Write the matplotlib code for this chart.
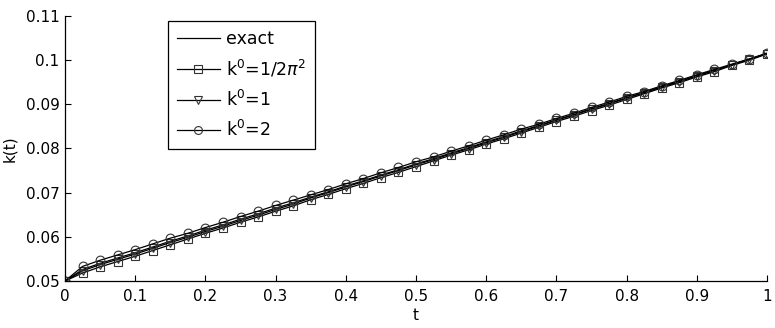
import numpy as np
import matplotlib
matplotlib.use('Agg')
import matplotlib.pyplot as plt
from matplotlib.ticker import FormatStrFormatter

plt.rcParams['font.family'] = ['DejaVu Sans']
plt.rcParams['mathtext.fontset'] = 'dejavusans'

# time samples
t = [0.000, 0.025, 0.050, 0.075, 0.100, 0.125, 0.150, 0.175, 0.200, 0.225,
     0.250, 0.275, 0.300, 0.325, 0.350, 0.375, 0.400, 0.425, 0.450, 0.475,
     0.500, 0.525, 0.550, 0.575, 0.600, 0.625, 0.650, 0.675, 0.700, 0.725,
     0.750, 0.775, 0.800, 0.825, 0.850, 0.875, 0.900, 0.925, 0.950, 0.975,
     1.000]

k_exact = [0.0500, 0.0526, 0.0540, 0.0552, 0.0564, 0.0577, 0.0590, 0.0602, 0.0615, 0.0627,
           0.0640, 0.0652, 0.0665, 0.0677, 0.0690, 0.0702, 0.0715, 0.0727, 0.0740, 0.0752,
           0.0765, 0.0777, 0.0790, 0.0802, 0.0815, 0.0827, 0.0840, 0.0852, 0.0865, 0.0877,
           0.0890, 0.0902, 0.0915, 0.0927, 0.0940, 0.0952, 0.0965, 0.0977, 0.0990, 0.1002,
           0.1015]

# k0 = 1/(2 pi^2)
k_sq = [0.0500, 0.0518, 0.0532, 0.0544, 0.0556, 0.0569, 0.0582, 0.0595, 0.0608, 0.0620,
        0.0633, 0.0645, 0.0658, 0.0670, 0.0684, 0.0696, 0.0709, 0.0721, 0.0734, 0.0746,
        0.0759, 0.0772, 0.0785, 0.0797, 0.0810, 0.0822, 0.0835, 0.0848, 0.0861, 0.0873,
        0.0886, 0.0898, 0.0911, 0.0924, 0.0937, 0.0949, 0.0962, 0.0974, 0.0988, 0.1000,
        0.1014]

# k0 = 1
k_tri = [0.0500, 0.0523, 0.0537, 0.0549, 0.0561, 0.0574, 0.0587, 0.0599, 0.0612, 0.0624,
         0.0637, 0.0649, 0.0662, 0.0674, 0.0688, 0.0700, 0.0713, 0.0725, 0.0738, 0.0750,
         0.0763, 0.0775, 0.0788, 0.0800, 0.0813, 0.0825, 0.0838, 0.0851, 0.0864, 0.0876,
         0.0889, 0.0901, 0.0914, 0.0926, 0.0939, 0.0951, 0.0964, 0.0976, 0.0990, 0.1002,
         0.1015]

# k0 = 2
k_circ = [0.0500, 0.0533, 0.0547, 0.0559, 0.0571, 0.0584, 0.0597, 0.0608, 0.0621, 0.0633,
          0.0646, 0.0658, 0.0671, 0.0683, 0.0695, 0.0707, 0.0720, 0.0732, 0.0745, 0.0757,
          0.0770, 0.0781, 0.0794, 0.0806, 0.0819, 0.0831, 0.0844, 0.0855, 0.0868, 0.0880,
          0.0893, 0.0905, 0.0918, 0.0929, 0.0942, 0.0954, 0.0967, 0.0979, 0.0991, 0.1003,
          0.1016]

labels = ['exact', r'k$^\mathrm{0}$=1/2$\pi^\mathrm{2}$',
          r'k$^\mathrm{0}$=1', r'k$^\mathrm{0}$=2']

fig = plt.figure(figsize=(7.75, 3.28), dpi=100)
ax = fig.add_axes([65 / 775, 1 - 281 / 328, 702 / 775, 265 / 328])

mk = dict(markersize=6.3, markerfacecolor='none', markeredgecolor='#333333',
          markeredgewidth=0.8, color='black', linewidth=0.9)
ax.plot(t, k_exact, color='black', linewidth=0.9, label=labels[0])
ax.plot(t, k_sq, marker='s', label=labels[1], **mk)
ax.plot(t, k_tri, marker='v', label=labels[2], **mk)
ax.plot(t, k_circ, marker='o', label=labels[3], **mk)

ax.set_xlim(0, 1)
ax.set_ylim(0.05, 0.11)
ax.set_xticks(np.arange(0, 1.01, 0.1))
ax.set_yticks(np.arange(0.05, 0.111, 0.01))
ax.xaxis.set_major_formatter(FormatStrFormatter('%g'))
ax.yaxis.set_major_formatter(FormatStrFormatter('%g'))
ax.tick_params(direction='in', length=4, width=0.8, labelsize=11)
ax.tick_params(axis='x', pad=6)
ax.tick_params(axis='y', pad=4)
for s in ['top', 'right']:
    ax.spines[s].set_visible(False)
for s in ['left', 'bottom']:
    ax.spines[s].set_linewidth(0.9)

ax.set_xlabel('t', fontsize=11, labelpad=3)
ax.set_ylabel('k(t)', fontsize=11)
ax.yaxis.set_label_coords(-0.068, 0.5)

leg = ax.legend(loc='upper left', bbox_to_anchor=(168 / 775, 1 - 21 / 328),
                bbox_transform=fig.transFigure, borderaxespad=0, numpoints=1,
                fontsize=12.5, handlelength=2.5, handletextpad=0.35,
                borderpad=0.5, labelspacing=0.6, fancybox=False, framealpha=1,
                markerscale=0.9)
leg.get_frame().set_edgecolor('black')
leg.get_frame().set_linewidth(0.9)

fig.savefig('out.png', dpi=100)
